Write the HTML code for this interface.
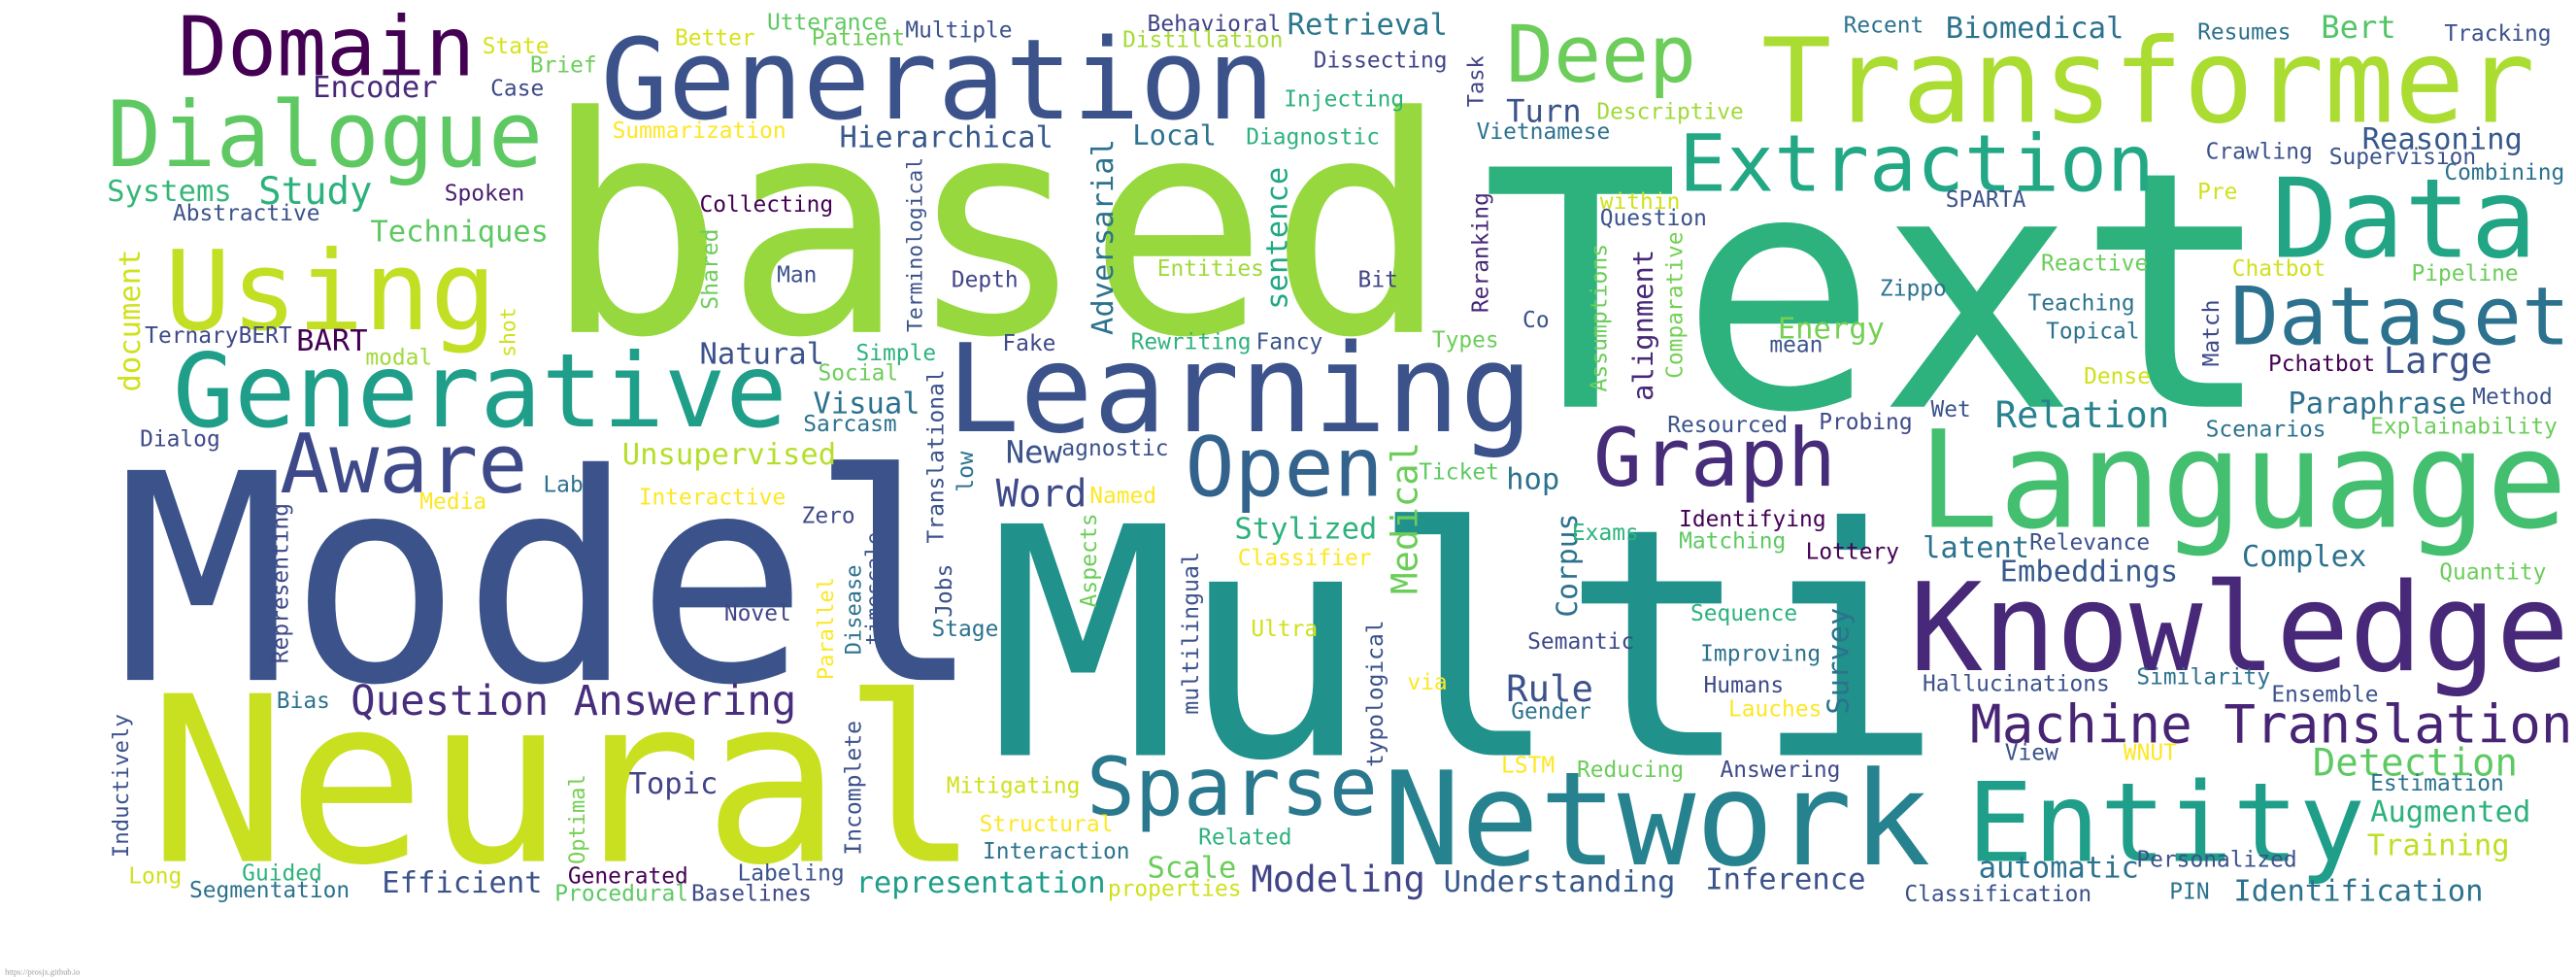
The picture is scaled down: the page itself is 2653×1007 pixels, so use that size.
<!DOCTYPE html>
<html>
<head>
<meta charset="utf-8">
<style>
  html,body{margin:0;padding:0;background:#fff;}
  svg{display:block;}
  text{font-family:"DejaVu Sans Mono","Liberation Mono",monospace;}
</style>
</head>
<body>
<svg id="cloud" width="2653" height="1007" viewBox="0 0 1565 594" preserveAspectRatio="none" xmlns="http://www.w3.org/2000/svg">
  <rect x="0" y="0" width="1565" height="594" fill="#ffffff"/>
  <text x="3" y="592" font-size="5" fill="#999" style="font-family:'Liberation Serif',serif">https://prosjx.github.io</text>
</svg>
<script>
// word, font size, x, baseline y, color, rotation
const words = ["based","Text","Model","Multi","Neural","Language","Knowledge","Transformer","Generation","Learning","Generative","Dialogue","Domain","Using","Deep","Data","Dataset","Extraction","Aware","Open","Graph","Sparse","Network","Entity","Machine Translation","Question Answering","Study","Systems","Techniques","Encoder","Hierarchical","Local","Retrieval","Biomedical","Bert","Reasoning","Turn","Energy","Relation","Paraphrase","Large","Complex","Embeddings","Detection","Augmented","Training","Identification","Inference","Understanding","Modeling","representation","Efficient","Topic","Word","Stylized","Rule","Visual","Natural","Unsupervised","automatic","Scale","latent","hop","New","BART",
"Adversarial","sentence","alignment","Medical","Corpus","Survey","document","Translational","Terminological","Reranking","Task","Shared","shot","Assumptions","Comparative","Match","low","Representing","Parallel","Disease","timescale","Jobs","Aspects","multilingual","typological","Incomplete","Optimal","Inductively",
"State","Better","Utterance","Patient","Multiple","Behavioral","Distillation","Dissecting","Injecting","Brief","Case","Spoken","Abstractive","Summarization","Diagnostic","Descriptive","Vietnamese","Recent","Resumes","Tracking","Crawling","Supervision","Combining","Pre","within","Question","SPARTA","Collecting","Reactive","Chatbot","Pipeline","Man","Depth","Entities","Bit","Zippo","Teaching","Topical","Co","mean","TernaryBERT","modal","Fake","Simple","Rewriting","Fancy","Types","Social","Sarcasm","Dialog","Dense","Pchatbot","Method","Wet","Probing","Resourced","Scenarios","Explainability","agnostic","Ticket","Lab","Media","Interactive","Named","Zero","Identifying","Exams","Matching","Relevance","Lottery","Classifier","Quantity","Novel","Sequence","Stage","Ultra","Semantic","Improving","Similarity","Humans","Hallucinations","via","Ensemble","Bias","Gender","Lauches","View","WNUT","LSTM","Reducing","Answering","Estimation","Mitigating","Structural","Related","Interaction","Personalized","Long","Guided","Generated","Labeling","Segmentation","Procedural","Baselines","properties","Classification","PIN"];
const sizes = [183,200,175,193,140,82,74,71,68,74,62,55,50,67,48,67,49,48,50,50,49,49,79,67,32,25,23,18,18,18,18,17,18,18,19,18,19,18,22,18,22,18,18,23,18,18,18,18,18,22,18,18,18,23,18,22,18,18,18,18,18,18,18,19,18,
18,18,17,22,17.5,18,18,13.5,12.6,13.5,13,13.6,12.6,13.6,13.5,13.5,13.8,13.5,13,13,12.7,13.5,13.6,13.7,13.5,13.6,13,13.2];
const xs = [330,900,70,600,90,1165,1160,1070,365,575,105,65,108,100,915,1380,1355,1020,170,720,968,660,840,1195,1197,213,157,65,225,190,510,688,782,1182,1410,1435,915,1080,1212,1390,1448,1362,1215,1405,1440,1438,1357,1036,877,760,520,232,382,605,750,915,494,425,378,1202,697,1168,915,611,180,
676,782,1004,861,958,1123,85,573,560,904,901,436,313,976,1022,1348,591,175,506,523,535,578,666,728,840,523,355,78,
293,410,466,493,550,697,682,798,780,322,298,270,105,372,757,970,897,1120,1335,1485,1340,1415,1485,1335,972,972,1182,425,1240,1356,1465,472,578,703,825,1142,1232,1243,925,1075,88,222,609,520,687,763,870,497,488,85,1266,1378,1502,1173,1105,1013,1340,1440,645,862,330,255,388,662,487,1020,955,1020,1233,1097,752,1482,440,1027,566,760,928,1033,1298,1035,1168,855,1380,168,918,1050,1218,1290,912,958,1045,1440,575,595,728,597,1298,78,147,345,448,115,337,420,673,1157,1318];
const ys = [201.7,247,413,458.6,523,320,407,74,72,262,259,101,45.7,200,49.5,156,209,116,299,301,295,495,525,523,451,434,124,122,146.5,59,89.4,88,21,23,23,90.6,74,205.5,259.6,251,226.5,344,353,471,499,519.5,547,540,541.6,541.6,542,542,482,307.5,327,426,251,220.8,282,533,533,338.7,297,281,213,
203.5,188,243.5,361,375,434,238,330,201.7,190,65,188,217,238,230,222.6,299,403,413,397.7,392,375,369,434,466,519.5,525,521,
32.4,27.4,17.9,27.4,22.8,19,28.5,41,64.7,43.8,58.2,121.8,134,83.7,87.5,72.3,84.5,19.8,24,24.7,96.3,99.7,109.2,121,126.7,137,125.6,128.6,164.4,167.5,170.5,171.3,174.3,167.5,174.3,179.6,188.4,205.5,198.7,213.9,208.2,221.5,213,218.8,212,212,211,231,261.9,271,233,225.3,245.5,253,260.7,262.6,265.3,263.4,276.7,291,298.8,309,306.4,305.6,317.8,319.7,328,333,334,339.5,343.3,352,376.8,376.8,386.3,386.3,394,401.5,415.6,420.6,419.8,418.7,426.3,430,436.6,435,461.7,461.7,469.3,472,472,480.3,481.5,505,513,521.4,526.4,536.6,534.8,536.6,534.8,545,547,547,544.3,547.3,546];
const colors = ["#97d83f","#2db27d","#3b528b","#21918c","#c8e020","#44bf70","#482878","#aadc32","#3b528b","#3b528b","#1f9e89","#5ec962","#440154","#c2df23","#6ccd5a","#21a585","#2c728e","#22a884","#3e4989","#33638d","#472c7a","#2a788e","#26828e","#1f9e89","#482475","#472d7b","#2db27d","#35b779","#5ec962","#482878","#38598c","#2c728e","#2a788e","#2c728e","#52c569","#38598c","#3b528b","#75d054","#26828e","#2d718e","#3b528b","#2c728e","#38598c","#5ec962","#2db27d","#bddf26","#2c728e","#3b528b","#38598c","#414487","#1f9e89","#3b528b","#414487","#3e4989","#2db27d","#3b528b","#2c728e","#3b528b","#b5de2b","#2c728e","#6ccd5a","#2c728e","#2c728e","#3b528b","#440154",
"#2c728e","#22a884","#482878","#6ccd5a","#2c728e","#2c728e","#d0e11c","#3b528b","#3b528b","#482878","#414487","#6ccd5a","#d0e11c","#6ccd5a","#75d054","#3e4989","#2c728e","#3e4989","#fde725","#2c728e","#3b528b","#3b528b","#6ccd5a","#3b528b","#3b528b","#3b528b","#75d054","#3b528b",
"#d8e219","#d8e219","#5ec962","#6ccd5a","#3b528b","#414487","#a5db36","#414487","#2db27d","#6ccd5a","#3e4989","#481f70","#3b528b","#fde725","#2db27d","#a0da39","#2c728e","#2c728e","#2c728e","#3b528b","#3b528b","#3b528b","#2c728e","#d0e11c","#d0e11c","#3b528b","#3b528b","#440154","#6ccd5a","#d0e11c","#6ccd5a","#3b528b","#414487","#a0da39","#414487","#2c728e","#2c728e","#2c728e","#3b528b","#3b528b","#3e4989","#a0da39","#3e4989","#2db27d","#2db27d","#3b528b","#6ccd5a","#6ccd5a","#2c728e","#3e4989","#d0e11c","#440154","#3b528b","#3b528b","#3e4989","#3b528b","#2c728e","#6ccd5a","#3b528b","#5ec962","#2c728e","#fde725","#fde725","#fde725","#3e4989","#440154","#2db27d","#5ec962","#3b528b","#440154","#fde725","#6ccd5a","#414487","#2db27d","#2c728e","#d0e11c","#3e4989","#2c728e","#2c728e","#3e4989","#3b528b","#fde725","#3b528b","#2c728e","#2c728e","#fde725","#3b528b","#fde725","#fde725","#6ccd5a","#3e4989","#2c728e","#d0e11c","#fde725","#2db27d","#2c728e","#3b528b","#d0e11c","#2db27d","#440154","#3b528b","#2c728e","#5ec962","#3e4989","#d0e11c","#3b528b","#2c728e"];
const rotatedCount = 28; // words 65..92 are vertical
const rotStart = 65;

const svg = document.getElementById('cloud');
const NS = 'http://www.w3.org/2000/svg';
for (let i = 0; i < words.length; i++) {
  const t = document.createElementNS(NS, 'text');
  const s = sizes[i] !== undefined ? sizes[i] : 13.5;
  t.setAttribute('x', xs[i]);
  t.setAttribute('y', ys[i]);
  t.setAttribute('font-size', s);
  t.setAttribute('fill', colors[i]);
  if (i >= rotStart && i < rotStart + rotatedCount) {
    t.setAttribute('transform', 'rotate(-90 ' + xs[i] + ' ' + ys[i] + ')');
  }
  t.textContent = words[i];
  
  
  svg.appendChild(t);
}
</script>
</body>
</html>
